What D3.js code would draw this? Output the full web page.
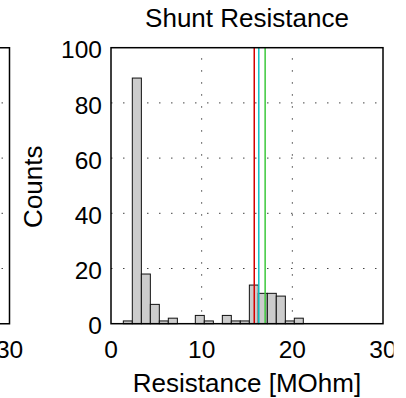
<!DOCTYPE html>
<meta charset="utf-8">
<style>
body { margin: 0; background: white; }
text { font-family: "Liberation Sans", Arial, Helvetica, sans-serif; fill: black; }
</style>
<body>
<script src="https://d3js.org/d3.v7.min.js"></script>
<script>

// histogram of shunt resistance, bin left edges in MOhm and counts
var binEdges = [1.36, 2.35, 3.35, 4.34, 5.33, 6.32, 7.32, 8.31, 9.30, 10.29,
                11.29, 12.28, 13.27, 14.26, 15.26, 16.25, 17.24, 18.23, 19.23, 20.22, 21.21];
var counts = [1, 89, 18, 7, 1, 2, 0, 0, 3, 1, 0, 3, 1, 1, 14, 11, 11, 10, 1, 2];

// marker lines (MOhm) and their colours
var markers = [15.8, 16.3, 17.0];
var markerColors = ["#d40000", "#10c0c0", "#3cc83c"];

var xTicks = [0, 10, 20, 30];
var yTicks = [0, 20, 40, 60, 80, 100];

var width = 406,
    height = 398;

var svg = d3.select("body").append("svg")
    .attr("width", width)
    .attr("height", height);

// the source image was cropped a bit right of the last tick label
svg.append("clipPath").attr("id", "crop")
  .append("rect").attr("x", 0).attr("y", 0).attr("width", 393.5).attr("height", height);

var top_ = 47.7, bottom = 323.7;

var x = d3.scaleLinear().domain([0, 30]).range([111, 383]);
var y = d3.scaleLinear().domain([0, 100]).range([bottom, top_]);

// neighbouring panel, only its right edge shows
var xLeft = d3.scaleLinear().domain([0, 30]).range([-262.5, 9.5]);

var dots = "1.5,10.5";

// left panel grid + frame
var gl = svg.append("g");
gl.selectAll("line.grid")
    .data(yTicks.slice(1, -1))
    .enter().append("line")
    .attr("x1", xLeft(0)).attr("x2", xLeft(30))
    .attr("y1", d => y(d)).attr("y2", d => y(d))
    .attr("stroke", "#444").attr("stroke-dasharray", dots);
gl.append("path")
    .attr("d", "M" + xLeft(0) + "," + y(100) + "H" + xLeft(30) + "V" + y(0) + "H" + xLeft(0))
    .attr("fill", "none").attr("stroke", "black").attr("stroke-width", 1.5);
// only the last tick label is (partly) inside the window
gl.selectAll("text")
    .data(xTicks.filter(d => xLeft(d) > 0))
    .enter().append("text")
    .attr("x", d => xLeft(d)).attr("y", 357.5)
    .attr("text-anchor", "middle")
    .style("font-size", "24.5px")
    .text(d => d);

// main panel
var g = svg.append("g");

g.selectAll("line.hgrid")
    .data(yTicks.slice(1, -1))
    .enter().append("line")
    .attr("x1", x(0)).attr("x2", x(30))
    .attr("y1", d => y(d)).attr("y2", d => y(d))
    .attr("stroke", "#444").attr("stroke-dasharray", dots);

g.selectAll("line.vgrid")
    .data(xTicks.slice(1, -1))
    .enter().append("line")
    .attr("x1", d => x(d)).attr("x2", d => x(d))
    .attr("y1", y(0)).attr("y2", y(100))
    .attr("stroke", "#444").attr("stroke-dasharray", dots);

g.selectAll("rect")
    .data(counts)
    .enter().append("rect")
    .attr("x", (d, i) => x(binEdges[i]))
    .attr("width", (d, i) => x(binEdges[i + 1]) - x(binEdges[i]))
    .attr("y", d => y(d))
    .attr("height", d => y(0) - y(d))
    .attr("fill", "#cccccc")
    .attr("stroke", "#111")
    .attr("stroke-width", 1);

g.selectAll("line.marker")
    .data(markers)
    .enter().append("line")
    .attr("x1", d => x(d)).attr("x2", d => x(d))
    .attr("y1", y(0)).attr("y2", y(100))
    .attr("stroke", (d, i) => markerColors[i])
    .attr("stroke-width", 1.5);

g.append("rect")
    .attr("x", x(0)).attr("y", y(100))
    .attr("width", x(30) - x(0)).attr("height", y(0) - y(100))
    .attr("fill", "none").attr("stroke", "black").attr("stroke-width", 1.5);

g.append("g").attr("clip-path", "url(#crop)")
  .selectAll("text.xt")
    .data(xTicks)
    .enter().append("text")
    .attr("x", d => x(d)).attr("y", 357.5)
    .attr("text-anchor", "middle")
    .style("font-size", "24.5px")
    .text(d => d);

g.selectAll("text.yt")
    .data(yTicks)
    .enter().append("text")
    .attr("x", 102).attr("y", d => y(d) + 10.6)
    .attr("text-anchor", "end")
    .style("font-size", "24.5px")
    .text(d => d);

svg.append("text")
    .attr("x", (x(0) + x(30)) / 2).attr("y", 27)
    .attr("text-anchor", "middle")
    .style("font-size", "26px")
    .text("Shunt Resistance");

svg.append("text")
    .attr("x", (x(0) + x(30)) / 2).attr("y", 391.5)
    .attr("text-anchor", "middle")
    .style("font-size", "26px")
    .text("Resistance [MOhm]");

svg.append("text")
    .attr("transform", "translate(42," + (y(50) + 1) + ") rotate(-90)")
    .attr("text-anchor", "middle")
    .style("font-size", "26px")
    .text("Counts");

</script>
</body>
</html>
